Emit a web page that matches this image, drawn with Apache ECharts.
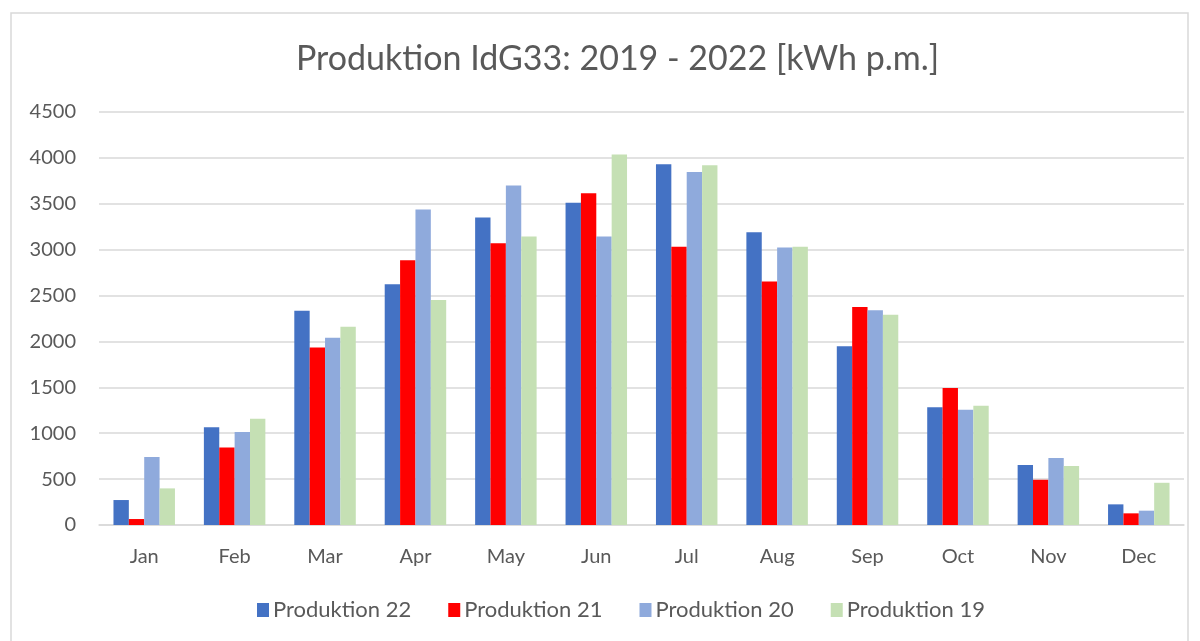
<!DOCTYPE html>
<html><head><meta charset="utf-8">
<script src="https://cdn.jsdelivr.net/npm/echarts@6/dist/echarts.min.js"></script>
<style>html,body{margin:0;padding:0;background:#fff}#c{width:1200px;height:641px}</style>
</head><body><div id="c"></div>
<script>
const months = ['Jan','Feb','Mar','Apr','May','Jun','Jul','Aug','Sep','Oct','Nov','Dec'];
const prod22 = [272,1066,2335,2622,3350,3510,3931,3191,1947,1284,653,225];
const prod21 = [65,845,1933,2886,3071,3615,3031,2654,2375,1494,493,127];
const prod20 = [740,1012,2041,3437,3699,3144,3847,3024,2339,1255,729,156];
const prod19 = [399,1157,2161,2451,3144,4036,3920,3031,2292,1298,642,460];
const seriesNames = ['Produktion 22','Produktion 21','Produktion 20','Produktion 19'];
const colors = ['#4472C4','#FF0000','#8FAADC','#C5E0B4'];
const FONT = 'Lato';
const chart = echarts.init(document.getElementById('c'));
const dataSets = [prod22, prod21, prod20, prod19];
chart.setOption({
  animation:false,
  backgroundColor:'#fff',
  graphic:[{type:'rect',shape:{x:11,y:13,width:1177,height:640},style:{fill:'none',stroke:'#d9d9d9',lineWidth:1.5},silent:true}],
  title:{text:'Produktion IdG33: 2019 - 2022 [kWh p.m.]',left:291,top:37,
    textStyle:{fontFamily:FONT,fontSize:34,fontWeight:'normal',color:'#595959'}},
  legend:{bottom:15,left:252,itemWidth:12,itemHeight:14,itemGap:37,icon:'rect',
    textStyle:{fontFamily:FONT,fontSize:22,color:'#595959',padding:[0,0,0,-1]},data:seriesNames},
  grid:{left:99,right:16,top:112,bottom:116,containLabel:false},
  xAxis:{type:'category',data:months,
    axisLine:{lineStyle:{color:'#d9d9d9',width:1.5}},axisTick:{show:false},
    axisLabel:{fontFamily:FONT,fontSize:20,color:'#595959',margin:22}},
  yAxis:{type:'value',min:0,max:4500,interval:500,
    axisLine:{show:false},axisTick:{show:false},
    splitLine:{lineStyle:{color:'#d9d9d9',width:1.5}},
    axisLabel:{fontFamily:FONT,fontSize:20,color:'#595959',margin:23,formatter:v=>String(v)}},
  series: seriesNames.map((n,i)=>({name:n,type:'bar',data:dataSets[i],
    barGap:'0%',barCategoryGap:'32%',itemStyle:{color:colors[i]}}))
});
</script></body></html>
